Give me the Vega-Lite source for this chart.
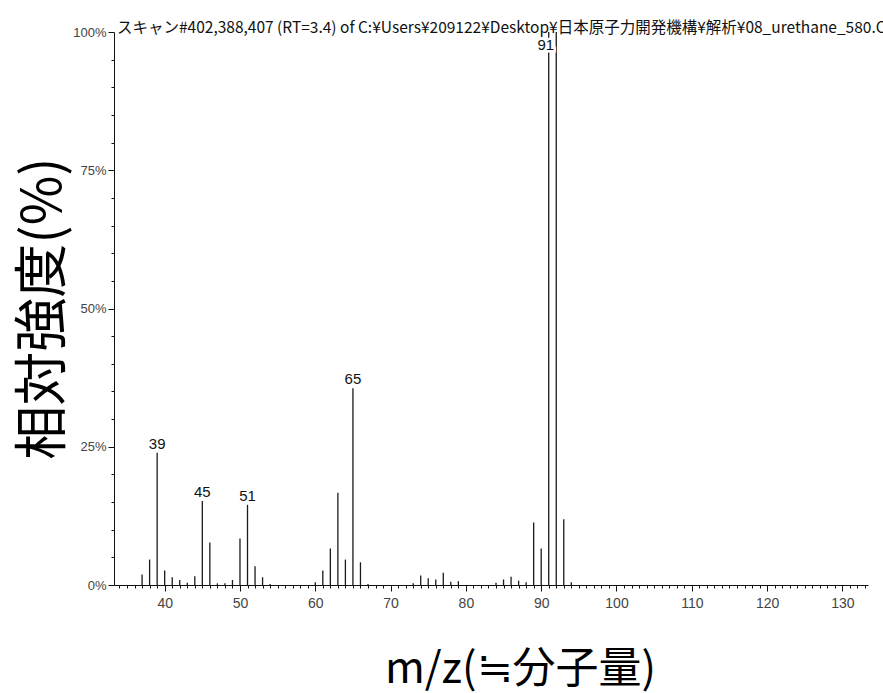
{
  "$schema": "https://vega.github.io/schema/vega-lite/v6.json",
  "width": 754,
  "height": 553,
  "autosize": "none",
  "padding": {"left": 114, "top": 32, "right": 15, "bottom": 108},
  "background": "white",
  "config": {"view": {"stroke": null}},
  "title": {
    "text": "スキャン#402,388,407 (RT=3.4) of C:¥Users¥209122¥Desktop¥日本原子力開発機構¥解析¥08_urethane_580.C",
    "anchor": "start",
    "frame": "group",
    "baseline": "alphabetic",
    "offset": 0,
    "dy": 22,
    "dx": 3,
    "font": "Noto Sans CJK JP",
    "fontSize": 15.5,
    "fontWeight": "normal",
    "color": "#111"
  },
  "data": {
    "values": [
      {"mz": 37, "intensity": 1.9},
      {"mz": 38, "intensity": 4.6},
      {"mz": 39, "intensity": 23.9, "label": "39"},
      {"mz": 40, "intensity": 2.6},
      {"mz": 41, "intensity": 1.4},
      {"mz": 42, "intensity": 0.9},
      {"mz": 43, "intensity": 0.4},
      {"mz": 44, "intensity": 1.6},
      {"mz": 45, "intensity": 15.2, "label": "45"},
      {"mz": 46, "intensity": 7.7},
      {"mz": 47, "intensity": 0.3},
      {"mz": 48, "intensity": 0.3},
      {"mz": 49, "intensity": 0.9},
      {"mz": 50, "intensity": 8.4},
      {"mz": 51, "intensity": 14.5, "label": "51"},
      {"mz": 52, "intensity": 3.4},
      {"mz": 53, "intensity": 1.4},
      {"mz": 54, "intensity": 0.2},
      {"mz": 60, "intensity": 0.5},
      {"mz": 61, "intensity": 2.6},
      {"mz": 62, "intensity": 6.6},
      {"mz": 63, "intensity": 16.7},
      {"mz": 64, "intensity": 4.6},
      {"mz": 65, "intensity": 35.6, "label": "65"},
      {"mz": 66, "intensity": 4.1},
      {"mz": 67, "intensity": 0.2},
      {"mz": 73, "intensity": 0.3},
      {"mz": 74, "intensity": 1.7},
      {"mz": 75, "intensity": 1.2},
      {"mz": 76, "intensity": 1.0},
      {"mz": 77, "intensity": 2.2},
      {"mz": 78, "intensity": 0.6},
      {"mz": 79, "intensity": 0.7},
      {"mz": 84, "intensity": 0.4},
      {"mz": 85, "intensity": 1.0},
      {"mz": 86, "intensity": 1.5},
      {"mz": 87, "intensity": 0.8},
      {"mz": 88, "intensity": 0.5},
      {"mz": 89, "intensity": 11.3},
      {"mz": 90, "intensity": 6.6},
      {"mz": 91, "intensity": 100, "label": "91", "top": true},
      {"mz": 92, "intensity": 100},
      {"mz": 93, "intensity": 11.9},
      {"mz": 94, "intensity": 0.5}
    ]
  },
  "encoding": {
    "x": {
      "field": "mz",
      "type": "quantitative",
      "scale": {"domain": [33.27, 133.4], "nice": false, "zero": false},
      "axis": {
        "values": [34,35,36,37,38,39,40,41,42,43,44,45,46,47,48,49,50,51,52,53,54,55,56,57,58,59,60,61,62,63,64,65,66,67,68,69,70,71,72,73,74,75,76,77,78,79,80,81,82,83,84,85,86,87,88,89,90,91,92,93,94,95,96,97,98,99,100,101,102,103,104,105,106,107,108,109,110,111,112,113,114,115,116,117,118,119,120,121,122,123,124,125,126,127,128,129,130,131,132,133],
        "labelExpr": "datum.value % 10 === 0 ? datum.value : ''",
        "labelOverlap": false,
        "labelFlush": false,
        "labelFont": "Liberation Sans",
        "labelFontSize": 14,
        "labelColor": "#444",
        "labelPadding": 5,
        "tickSize": {"condition": {"test": "datum.value % 10 === 0", "value": 6}, "value": 3},
        "tickColor": "#111",
        "domainColor": "#111",
        "grid": false,
        "title": "m/z(≒分子量)",
        "titleFont": "Noto Sans CJK JP",
        "titleFontSize": 43,
        "titleFontWeight": "normal",
        "titleColor": "#000",
        "titleAlign": "center",
        "titleBaseline": "alphabetic",
        "titleX": 406,
        "titleY": 97
      }
    },
    "y": {
      "field": "intensity",
      "type": "quantitative",
      "scale": {"domain": [0, 100], "nice": false},
      "axis": {
        "values": [0,5,10,15,20,25,30,35,40,45,50,55,60,65,70,75,80,85,90,95,100],
        "labelExpr": "datum.value % 25 === 0 ? datum.value + '%' : ''",
        "labelOverlap": false,
        "labelFlush": false,
        "labelFont": "Liberation Sans",
        "labelFontSize": 13,
        "labelColor": "#444",
        "labelPadding": 2,
        "tickSize": {"condition": {"test": "datum.value % 25 === 0", "value": 6}, "value": 3},
        "tickColor": "#111",
        "domainColor": "#111",
        "grid": false,
        "title": "相対強度(%)",
        "titleFont": "Noto Sans CJK JP",
        "titleFontSize": 54,
        "titleFontWeight": "normal",
        "titleColor": "#000",
        "titleAlign": "center",
        "titleBaseline": "alphabetic",
        "titleX": -54,
        "titleY": 276
      }
    }
  },
  "layer": [
    {
      "mark": {"type": "rule", "color": "#1a1a1a", "strokeWidth": 1.3},
      "encoding": {"y2": {"datum": 0}}
    },
    {
      "transform": [{"filter": "datum.label && !datum.top"}],
      "mark": {"type": "text", "baseline": "alphabetic", "dy": -4, "font": "Liberation Sans", "fontSize": 15, "color": "#111"},
      "encoding": {"text": {"field": "label"}}
    },
    {
      "transform": [{"filter": "datum.top"}],
      "mark": {"type": "text", "baseline": "alphabetic", "dy": 18, "dx": -3, "font": "Liberation Sans", "fontSize": 15, "color": "white", "stroke": "white", "strokeWidth": 5},
      "encoding": {"text": {"field": "label"}}
    },
    {
      "transform": [{"filter": "datum.top"}],
      "mark": {"type": "text", "baseline": "alphabetic", "dy": 18, "dx": -3, "font": "Liberation Sans", "fontSize": 15, "color": "#111"},
      "encoding": {"text": {"field": "label"}}
    }
  ]
}
